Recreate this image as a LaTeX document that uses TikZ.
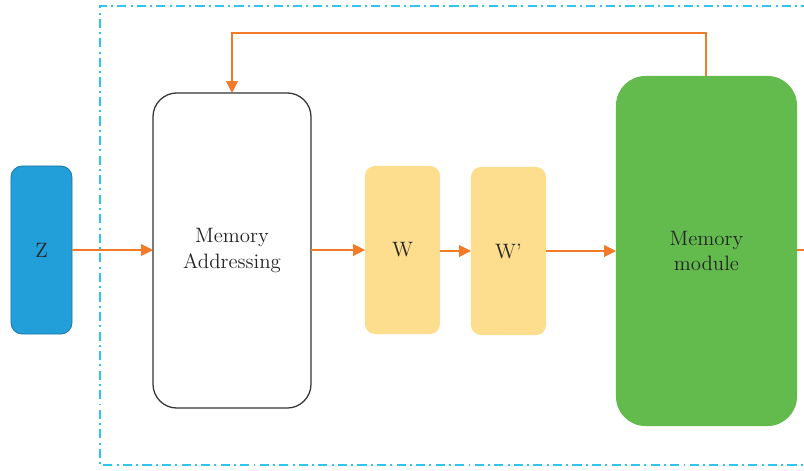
\documentclass[tikz,border=0pt]{standalone}
\usepackage{tikz}
\usetikzlibrary{arrows.meta}
\usepackage{xcolor}
\definecolor{zblue}{RGB}{34,158,216}
\definecolor{zblueline}{RGB}{28,120,170}
\definecolor{wyellow}{RGB}{253,222,142}
\definecolor{memgreen}{RGB}{99,187,78}
\definecolor{flow}{RGB}{242,122,40}
\definecolor{frame}{RGB}{48,196,238}
\definecolor{txt}{RGB}{35,35,35}
\tikzset{
  block/.style={inner sep=0pt, outer sep=0pt, align=center, text=txt,
    font=\fontsize{14.8}{18}\selectfont},
  flowarrow/.style={draw=flow, line width=0.75pt, -{Triangle[length=8.5pt,width=8.5pt]}},
  frameline/.style={draw=frame, line width=1.1pt,
    dash pattern=on 6.5pt off 3pt on 1.4pt off 3pt}
}

\begin{document}
\begin{tikzpicture}[x=0.025cm, y=-0.025cm]
  \useasboundingbox (0,0) rectangle (804,470);
  \clip (0,0) rectangle (804,470);

  % outer frame, runs past the right edge
  \draw[frameline] (830,6) -- (100,6) -- (100,465) -- (830,465);

  % blocks
  \node[block, fill=zblue, draw=zblueline, line width=0.6pt, rounded corners=8pt,
    minimum width=1.525cm, minimum height=4.2cm] (z) at (41.5,250) {Z};
  \node[block, fill=white, draw=black!80, line width=0.9pt, rounded corners=17pt,
    minimum width=3.95cm, minimum height=7.875cm] (addr) at (232,250.5) {Memory\\Addressing};
  \node[block, fill=wyellow, rounded corners=7pt,
    minimum width=1.875cm, minimum height=4.2cm] (w) at (402.5,250) {W};
  \node[block, fill=wyellow, rounded corners=7pt,
    minimum width=1.875cm, minimum height=4.2cm] (wp) at (508.5,251) {W'};
  \node[block, fill=memgreen, rounded corners=21pt,
    minimum width=4.525cm, minimum height=8.75cm] (mem) at (706.5,251) {Memory\\module};

  \coordinate (out) at (840,250);
  \coordinate (loopr) at (706,33);
  \coordinate (loopl) at (232,33);

  % data flow
  \draw[flowarrow] (z.east |- 0,250) -- (addr.west |- 0,250);
  \draw[flowarrow] (addr.east |- 0,250) -- (w.west |- 0,250);
  \draw[flowarrow] (w.east |- 0,251) -- (wp.west |- 0,251);
  \draw[flowarrow] (wp.east |- 0,251) -- (mem.west |- 0,251);
  \draw[flowarrow] (mem.east |- 0,250) -- (out);

  % feedback to the addressing step
  \draw[flowarrow] (mem.north -| loopr) -- (loopr) -- (loopl) -- (addr.north);
\end{tikzpicture}
\end{document}
